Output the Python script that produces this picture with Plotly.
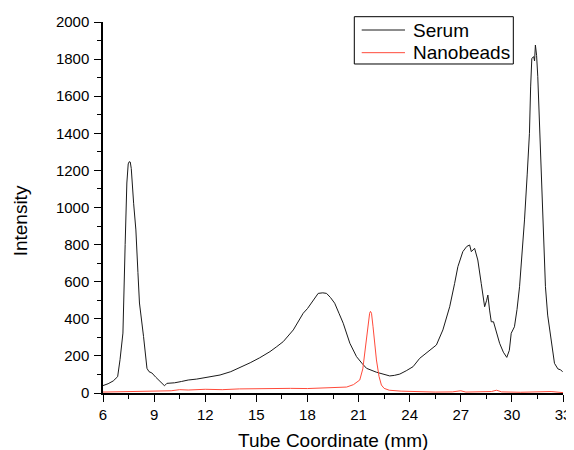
import plotly.graph_objects as go

serum_x = [6.0, 6.3, 6.6, 6.86, 7.0, 7.17, 7.3, 7.4, 7.48, 7.54, 7.6, 7.66, 7.8, 7.93, 8.05, 8.14,
           8.38, 8.5, 8.58, 8.7, 8.87, 9.1, 9.35, 9.61, 9.75, 10.2, 10.6, 11.0, 11.5, 12.0, 12.87,
           13.5, 14.0, 14.64, 15.2, 15.8, 16.2, 16.58, 17.17, 17.5, 17.75, 18.0, 18.24, 18.45, 18.63,
           18.9, 19.12, 19.35, 19.6, 19.85, 20.1, 20.49, 20.88, 21.2, 21.47, 22.05, 22.5, 22.83, 23.1,
           23.42, 23.8, 24.2, 24.59, 25.17, 25.57, 25.95, 26.35, 26.64, 26.83, 27.12, 27.35, 27.52,
           27.62, 27.81, 28.0, 28.2, 28.4, 28.52, 28.59, 28.69, 28.79, 28.92, 29.05, 29.28, 29.5,
           29.7, 29.85, 29.96, 30.15, 30.3, 30.45, 30.6, 30.74, 30.9, 31.03, 31.1, 31.17, 31.28,
           31.33, 31.38, 31.45, 31.52, 31.62, 31.72, 31.85, 31.97, 32.1, 32.2, 32.35, 32.5, 32.7,
           32.85, 32.98]
serum_y = [40, 50, 65, 88, 180, 323, 800, 1132, 1235, 1247, 1245, 1210, 1020, 879, 650, 485,
           304, 180, 133, 115, 108, 85, 60, 39, 52, 55, 62, 70, 75, 82, 97,
           115, 135, 163, 190, 223, 250, 277, 340, 390, 430, 455, 484, 512, 537,
           540, 537, 515, 484, 430, 376, 268, 196, 160, 133, 112, 100, 92, 95,
           102, 120, 142, 187, 232, 259, 340, 465, 591, 681, 762, 790, 798,
           762, 780, 717, 591, 465, 500, 528, 447, 384, 384, 340, 268, 220,
           192, 230, 322, 357, 450, 573, 750, 933, 1180, 1400, 1650, 1804, 1813,
           1790, 1876, 1820, 1705, 1450, 1202, 880, 573, 420, 357, 250, 160, 130,
           125, 115]

beads_x = [6.0, 7.0, 8.0, 9.0, 10.0, 10.5, 11.0, 12.0, 13.0, 14.0, 15.0, 16.0, 17.0, 18.0, 19.0,
           19.8, 20.3, 20.7, 21.07, 21.25, 21.37, 21.47, 21.56, 21.65, 21.7, 21.76, 21.85, 21.95,
           22.05, 22.2, 22.34, 22.5, 22.8, 23.5, 24.5, 25.5, 26.5, 27.0, 27.3, 28.0, 28.8, 29.1,
           29.4, 30.5, 31.5, 32.3, 33.0]
beads_y = [5, 6, 8, 7, 12, 18, 16, 20, 18, 22, 24, 22, 25, 24, 27,
           28, 32, 45, 70, 130, 214, 300, 376, 430, 440, 430, 357, 260,
           178, 90, 43, 25, 15, 10, 6, 5, 6, 12, 5, 5, 8, 15,
           6, 4, 6, 8, 2]

x_ticks = [6, 9, 12, 15, 18, 21, 24, 27, 30, 33]
y_ticks = [0, 200, 400, 600, 800, 1000, 1200, 1400, 1600, 1800, 2000]

series_names = ["Serum", "Nanobeads"]
series_colors = ["#1a1a1a", "#ff4a3a"]

fig = go.Figure()
fig.add_trace(go.Scatter(x=serum_x, y=serum_y, mode="lines", name=series_names[0],
                         line=dict(color=series_colors[0], width=1), showlegend=False))
fig.add_trace(go.Scatter(x=beads_x, y=beads_y, mode="lines", name=series_names[1],
                         line=dict(color=series_colors[1], width=1), showlegend=False))

axis_common = dict(showgrid=False, zeroline=False, showline=True, linecolor="black", linewidth=1.5,
                   ticks="outside", tickcolor="black", tickwidth=1.2, ticklen=7,
                   tickfont=dict(size=15, color="black"), mirror=False, automargin=False)

fig.update_xaxes(range=[6, 33], tickvals=x_ticks, ticktext=[str(v) for v in x_ticks],
                 minor=dict(dtick=1.5, tick0=6, ticks="outside", ticklen=4, tickcolor="black", tickwidth=1.2),
                 **axis_common)
fig.update_yaxes(range=[0, 2000], tickvals=y_ticks, ticktext=[str(v) for v in y_ticks],
                 minor=dict(dtick=100, tick0=0, ticks="outside", ticklen=4, tickcolor="black", tickwidth=1.2),
                 ticklabelstandoff=2, **axis_common)

# axis titles
annotations = [
    dict(text="Tube Coordinate (mm)", xref="paper", yref="paper", x=0.5, y=-0.1267,
         xanchor="center", yanchor="middle", showarrow=False, font=dict(size=19, color="black")),
    dict(text="Intensity", xref="paper", yref="paper", x=-0.179, y=0.4644, textangle=-90,
         xanchor="center", yanchor="middle", showarrow=False, font=dict(size=19, color="black")),
]

# legend box drawn by hand to match the original spacing
shapes = [dict(type="rect", xref="paper", yref="paper", x0=0.5463, x1=0.892, y0=0.8868, y1=1.0143,
               line=dict(color="black", width=1), fillcolor="white", layer="above")]
legend_rows_y = [0.9784, 0.9173]
for name, color, yy in zip(series_names, series_colors, legend_rows_y):
    shapes.append(dict(type="line", xref="paper", yref="paper", x0=0.5624, x1=0.6565, y0=yy, y1=yy,
                       line=dict(color=color, width=1), layer="above"))
    annotations.append(dict(text=name, xref="paper", yref="paper", x=0.6696, y=yy,
                            xanchor="left", yanchor="middle", showarrow=False,
                            font=dict(size=19, color="black")))

# the page body adds an 8 px offset, so the figure is 8 px smaller and margins shifted
fig.update_layout(
    width=566, height=442,
    margin=dict(l=95, r=11, t=14, b=57),
    plot_bgcolor="white", paper_bgcolor="white",
    font=dict(family="Liberation Sans, Arial, sans-serif", color="black"),
    showlegend=False,
    shapes=shapes, annotations=annotations,
)

fig.write_html("out.html")
